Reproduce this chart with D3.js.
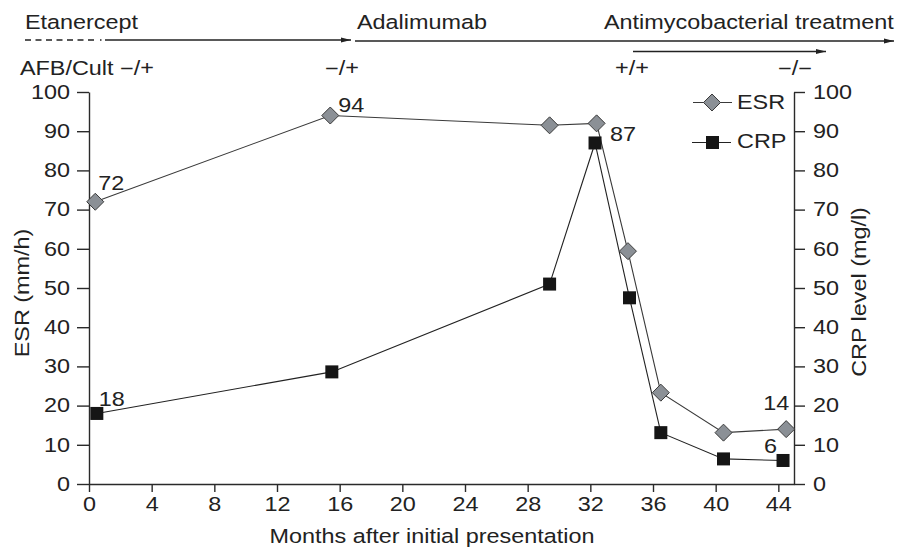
<!DOCTYPE html>
<html>
<head>
<meta charset="utf-8">
<script src="https://cdn.jsdelivr.net/npm/d3@7/dist/d3.min.js"></script>
<style>
  html, body { margin: 0; padding: 0; background: #fff; }
  svg { display: block; }
  text { font-family: "Liberation Sans", Arial, Helvetica, sans-serif; fill: #222; }
</style>
</head>
<body>
<svg id="chart" width="913" height="549"></svg>
<script>
// ---- data ----
const esrMonths = [0.4, 15.4, 29.4, 32.4, 34.4, 36.5, 40.5, 44.5];
const esrValues = [72, 94, 91.5, 92, 59.4, 23.3, 13.1, 14];
const crpMonths = [0.5, 15.5, 29.4, 32.3, 34.5, 36.5, 40.5, 44.3];
const crpValues = [18, 28.6, 51, 87, 47.5, 13.1, 6.4, 6];
const monthTicks = [0, 4, 8, 12, 16, 20, 24, 28, 32, 36, 40, 44];
const levelTicks = [0, 10, 20, 30, 40, 50, 60, 70, 80, 90, 100];
const therapies = ["Etanercept", "Adalimumab", "Antimycobacterial treatment"];
const afbResults = ["AFB/Cult \u2212/+", "\u2212/+", "+/+", "\u2212/\u2212"];
const seriesNames = ["ESR", "CRP"];

// ---- layout ----
const FS = 19.5;      // font size
const SX = 1.2;       // horizontal glyph stretch of the typeface
const svg = d3.select("#chart");

const x = d3.scaleLinear().domain([0, 45]).range([89, 794]);
const yL = d3.scaleLinear().domain([0, 100]).range([484, 92]);
const yR = d3.scaleLinear().domain([0, 100]).range([484, 92]);

function label(g, px, py, str, anchor, rot) {
  return g.append("text")
    .attr("transform", `translate(${px},${py})${rot ? " rotate(" + rot + ")" : ""} scale(${SX},1)`)
    .attr("text-anchor", anchor || "start")
    .style("font-size", FS + "px")
    .text(str);
}

// ---- axes ----
function styleAxis(g, textX) {
  g.select(".domain").attr("stroke", "#2a2a2a").attr("stroke-width", 1.4);
  g.selectAll(".tick line").attr("stroke", "#2a2a2a").attr("stroke-width", 1.4);
  g.selectAll(".tick text")
    .style("font-size", FS + "px")
    .style("font-family", '"Liberation Sans", Arial, sans-serif')
    .attr("fill", "#222");
  if (textX !== undefined) {
    g.selectAll(".tick text").attr("x", textX / SX).attr("transform", `scale(${SX},1)`);
  }
}

const gLeft = svg.append("g").attr("transform", `translate(${x(0)},0)`)
  .call(d3.axisLeft(yL).tickValues(levelTicks).tickSize(12).tickPadding(7).tickSizeOuter(0));
styleAxis(gLeft, -19);

const gRight = svg.append("g").attr("transform", `translate(${x(45)},0)`)
  .call(d3.axisRight(yR).tickValues(levelTicks).tickSize(11).tickPadding(8).tickSizeOuter(0));
styleAxis(gRight, 19);

const gBottom = svg.append("g").attr("transform", `translate(0,${yL(0)})`)
  .call(d3.axisBottom(x).tickValues(monthTicks).tickSize(8).tickPadding(6).tickSizeOuter(0));
styleAxis(gBottom);
gBottom.selectAll(".tick text").attr("transform", `scale(${SX},1)`).attr("dy", "0.71em").attr("y", 13);

// axis titles
label(svg, 29, 293, "ESR (mm/h)", "middle", -90);
label(svg, 866, 292, "CRP level (mg/l)", "middle", -90);
label(svg, 432, 543, "Months after initial presentation", "middle");

// ---- therapy timeline ----
const defs = svg.append("defs");
defs.append("marker")
  .attr("id", "arrow").attr("viewBox", "0 0 10 6")
  .attr("refX", 10).attr("refY", 3)
  .attr("markerWidth", 10).attr("markerHeight", 6)
  .attr("markerUnits", "userSpaceOnUse").attr("orient", "auto")
  .append("path").attr("d", "M0,0.6 L10,3 L0,5.4 Z").attr("fill", "#222");

const tl = svg.append("g").attr("stroke", "#222").attr("stroke-width", 1.3);
tl.append("line").attr("x1", 25).attr("x2", 98).attr("y1", 40).attr("y2", 40)
  .attr("stroke-dasharray", "6,4.5");
tl.append("line").attr("x1", 100).attr("x2", 101.5).attr("y1", 40).attr("y2", 40);
tl.append("line").attr("x1", 105).attr("x2", 351).attr("y1", 40).attr("y2", 40)
  .attr("marker-end", "url(#arrow)");
tl.append("line").attr("x1", 355).attr("x2", 894).attr("y1", 41).attr("y2", 41)
  .attr("marker-end", "url(#arrow)");
tl.append("line").attr("x1", 633).attr("x2", 826).attr("y1", 51.5).attr("y2", 51.5)
  .attr("marker-end", "url(#arrow)");

label(svg, 25, 29, therapies[0]);
label(svg, 357, 29, therapies[1]);
label(svg, 604, 29, therapies[2]);

label(svg, 20, 75, afbResults[0]);
label(svg, 325, 75, afbResults[1]);
label(svg, 615, 75, afbResults[2]);
label(svg, 778, 75, afbResults[3]);

// ---- series ----
const esrPts = esrMonths.map((m, i) => [x(m), yL(esrValues[i])]);
const crpPts = crpMonths.map((m, i) => [x(m), yR(crpValues[i])]);
const line = d3.line();

svg.append("path").attr("d", line(esrPts)).attr("fill", "none")
  .attr("stroke", "#3a3a3a").attr("stroke-width", 1.1);
svg.append("path").attr("d", line(crpPts)).attr("fill", "none")
  .attr("stroke", "#222").attr("stroke-width", 1.1);

const R = 8.5;   // diamond half-diagonal
const S = 13;    // square side
function diamond(g, cx, cy) {
  g.append("path")
    .attr("d", `M${cx},${cy - R} L${cx + R},${cy} L${cx},${cy + R} L${cx - R},${cy} Z`)
    .attr("fill", "#8b9096").attr("stroke", "#3a3a3a").attr("stroke-width", 1);
}
function square(g, cx, cy) {
  g.append("rect").attr("x", cx - S / 2).attr("y", cy - S / 2)
    .attr("width", S).attr("height", S).attr("fill", "#151515");
}

const marks = svg.append("g");
esrPts.forEach(p => diamond(marks, p[0], p[1]));
crpPts.forEach(p => square(marks, p[0], p[1]));

// value annotations, read from the series they describe
const annotations = [
  { pts: esrPts, vals: esrValues, i: 0, dx: 3, dy: -12, anchor: "start" },
  { pts: esrPts, vals: esrValues, i: 1, dx: 8, dy: -4, anchor: "start" },
  { pts: crpPts, vals: crpValues, i: 0, dx: 2, dy: -7, anchor: "start" },
  { pts: crpPts, vals: crpValues, i: 3, dx: 15, dy: -2, anchor: "start" },
  { pts: esrPts, vals: esrValues, i: 7, dx: 3, dy: -19, anchor: "end" },
  { pts: crpPts, vals: crpValues, i: 7, dx: -6, dy: -7.5, anchor: "end" }
];
annotations.forEach(a => {
  const p = a.pts[a.i];
  label(svg, p[0] + a.dx, p[1] + a.dy, String(a.vals[a.i]), a.anchor);
});

// ---- legend ----
const lg = svg.append("g");
lg.append("line").attr("x1", 693).attr("x2", 732).attr("y1", 102.5).attr("y2", 102.5)
  .attr("stroke", "#3a3a3a").attr("stroke-width", 1.1);
diamond(lg, 712, 102.5);
label(lg, 737, 108.5, seriesNames[0]);
lg.append("line").attr("x1", 692).attr("x2", 731).attr("y1", 142.5).attr("y2", 142.5)
  .attr("stroke", "#222").attr("stroke-width", 1.1);
square(lg, 712.5, 142.5);
label(lg, 737, 148, seriesNames[1]);
</script>
</body>
</html>
